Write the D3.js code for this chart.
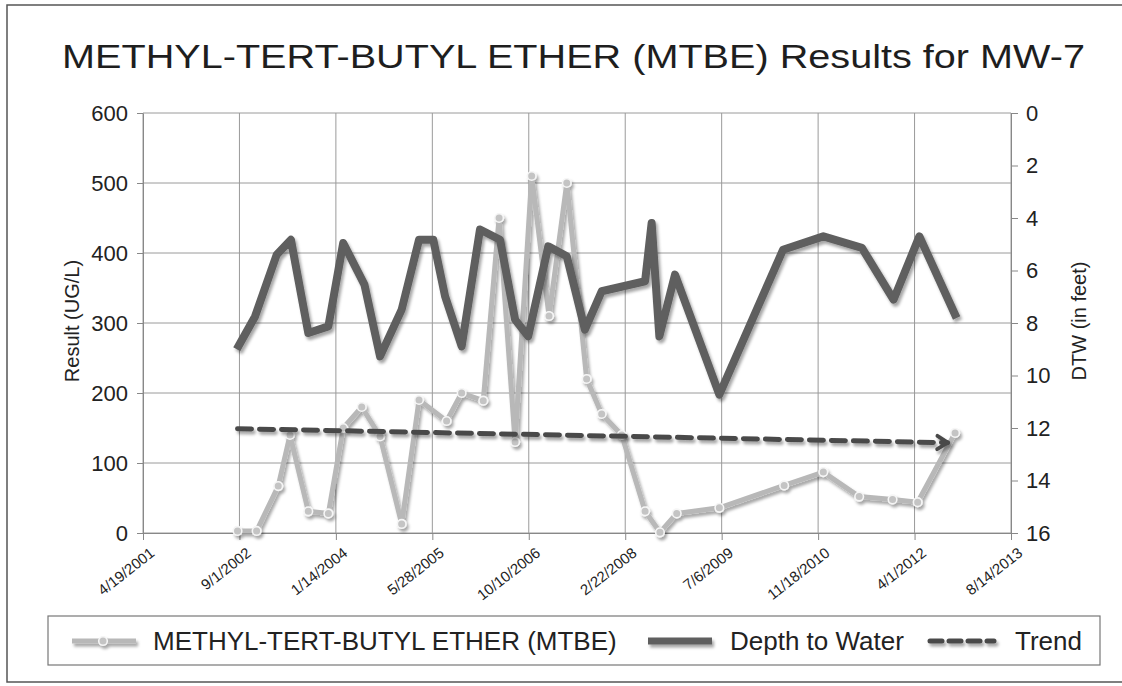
<!DOCTYPE html>
<html>
<head>
<meta charset="utf-8">
<script src="https://cdn.jsdelivr.net/npm/d3@7"></script>
<style>
  body { margin: 0; background: #fff; }
  text { font-family: "Liberation Sans", Arial, sans-serif; fill: #222; }
  .grid line { stroke: #9a9a9a; stroke-width: 1; }
  .axis path, .axis line { stroke: #888; }
  .xlab { font-family: "Liberation Sans Narrow", "Arial Narrow", "Liberation Sans", sans-serif; }
</style>
</head>
<body>
<div id="chart"></div>
<script>
// tick labels on the date axis
var xTicks = ["4/19/2001", "9/1/2002", "1/14/2004", "5/28/2005", "10/10/2006",
  "2/22/2008", "7/6/2009", "11/18/2010", "4/1/2012", "8/14/2013"];

// MTBE results (UG/L)
var mtbeDates = ["8/22/2002", "11/29/2002", "3/21/2003", "5/21/2003", "8/24/2003", "12/6/2003",
  "2/21/2004", "5/27/2004", "8/30/2004", "12/20/2004", "3/20/2005", "8/10/2005", "10/27/2005",
  "2/16/2006", "5/9/2006", "7/31/2006", "10/25/2006", "1/23/2007", "4/25/2007", "8/6/2007",
  "10/23/2007", "2/4/2008", "6/4/2008", "8/20/2008", "11/15/2008", "6/24/2009", "5/26/2010",
  "12/15/2010", "6/19/2011", "12/9/2011", "4/17/2012", "10/28/2012"];
var mtbeValues = [3, 3, 67, 140, 31, 28, 150, 180, 138, 13, 190, 160, 200, 189, 450, 130, 510,
  310, 500, 220, 170, 140, 31, 1, 28, 36, 68, 87, 52, 48, 44, 143];

// depth to water (feet)
var dtwDates = ["8/18/2002", "11/21/2002", "3/13/2003", "5/26/2003", "8/24/2003", "12/6/2003",
  "2/21/2004", "6/10/2004", "8/30/2004", "12/20/2004", "3/20/2005", "6/2/2005", "8/2/2005",
  "10/27/2005", "1/30/2006", "5/14/2006", "7/31/2006", "10/7/2006", "1/19/2007", "4/25/2007",
  "7/28/2007", "10/23/2007", "6/4/2008", "7/8/2008", "8/17/2008", "11/6/2008", "6/24/2009",
  "5/20/2010", "12/15/2010", "7/3/2011", "12/14/2011", "4/26/2012", "11/5/2012"];
var dtwValues = [9.0, 7.75, 5.4, 4.83, 8.38, 8.13, 4.95, 6.54, 9.27, 7.49, 4.83, 4.83, 6.98,
  8.89, 4.44, 4.83, 7.87, 8.51, 5.08, 5.46, 8.25, 6.79, 6.41, 4.19, 8.51, 6.16, 10.73, 5.21,
  4.70, 5.14, 7.11, 4.70, 7.81];

// trend line
var trendDates = ["8/22/2002", "9/20/2012"];
var trendValues = [149, 129];

var leftTicks = [0, 100, 200, 300, 400, 500, 600];
var rightTicks = [0, 2, 4, 6, 8, 10, 12, 14, 16];

var parse = d3.timeParse("%m/%d/%Y");
var fmt = d3.timeFormat("%-m/%-d/%Y");

var outerWidth = 1122, outerHeight = 686;
var margin = { top: 113, right: 111, bottom: 153, left: 143 };
var width = outerWidth - margin.left - margin.right,
  height = outerHeight - margin.top - margin.bottom;

var svg = d3.select("#chart").append("svg")
  .attr("width", outerWidth)
  .attr("height", outerHeight);

// shadow like the office chart effect
var defs = svg.append("defs");
defs.append("filter")
  .attr("id", "shadow")
  .attr("filterUnits", "userSpaceOnUse")
  .attr("x", -300).attr("y", -300).attr("width", 1800).attr("height", 1400)
  .append("feDropShadow")
  .attr("dx", 2).attr("dy", 3)
  .attr("stdDeviation", 1.6)
  .attr("flood-color", "#000")
  .attr("flood-opacity", 0.35);

defs.append("marker")
  .attr("id", "arrow")
  .attr("viewBox", "0 0 10 10")
  .attr("refX", 7).attr("refY", 5)
  .attr("markerWidth", 3.8).attr("markerHeight", 3.8)
  .attr("markerUnits", "strokeWidth")
  .attr("orient", "auto")
  .append("path")
  .attr("d", "M1.5,1.5 L7,5 L1.5,8.5")
  .attr("fill", "none")
  .attr("stroke", "#4a4a4a")
  .attr("stroke-width", 2)
  .attr("stroke-linecap", "round")
  .attr("stroke-linejoin", "round");

// outer frame
svg.append("rect")
  .attr("x", 7).attr("y", 5)
  .attr("width", 1130).attr("height", 677)
  .attr("fill", "none")
  .attr("stroke", "#555")
  .attr("stroke-width", 1.5);

// title
svg.append("text")
  .attr("x", 62)
  .attr("y", 68)
  .attr("textLength", 1023)
  .attr("lengthAdjust", "spacingAndGlyphs")
  .style("font-size", "33.5px")
  .style("fill", "#1e1e1e")
  .text("METHYL-TERT-BUTYL ETHER (MTBE) Results for MW-7");

var g = svg.append("g")
  .attr("transform", "translate(" + margin.left + "," + margin.top + ")");

//Create scale functions
var xScale = d3.scaleTime()
  .domain([parse(xTicks[0]), parse(xTicks[xTicks.length - 1])])
  .range([0, width]);

var yScale = d3.scaleLinear()
  .domain([0, 600])
  .range([height, 0]);

var y2Scale = d3.scaleLinear()
  .domain([0, 16])
  .range([0, height]);

// gridlines
var grid = g.append("g").attr("class", "grid");
grid.selectAll("line.h")
  .data(leftTicks)
  .enter().append("line")
  .attr("class", "h")
  .attr("x1", 0).attr("x2", width)
  .attr("y1", function(d) { return yScale(d); })
  .attr("y2", function(d) { return yScale(d); });
grid.selectAll("line.v")
  .data(xTicks.map(parse))
  .enter().append("line")
  .attr("class", "v")
  .attr("y1", 0).attr("y2", height)
  .attr("x1", function(d) { return xScale(d); })
  .attr("x2", function(d) { return xScale(d); });

// axes
var xAxis = g.append("g")
  .attr("class", "axis")
  .attr("transform", "translate(0," + height + ")")
  .call(d3.axisBottom(xScale).tickValues(xTicks.map(parse)).tickFormat(fmt).tickSize(7).tickSizeOuter(0));
xAxis.selectAll("text")
  .attr("class", "xlab")
  .style("font-size", "15px")
  .style("text-anchor", "end")
  .attr("dx", 0).attr("dy", 0)
  .attr("transform", "translate(6,14) rotate(-38)");

var yAxis = g.append("g")
  .attr("class", "axis")
  .call(d3.axisLeft(yScale).tickValues(leftTicks).tickSize(6).tickSizeOuter(0).tickPadding(9));
yAxis.selectAll("text").style("font-size", "22px");

var y2Axis = g.append("g")
  .attr("class", "axis")
  .attr("transform", "translate(" + width + ",0)")
  .call(d3.axisRight(y2Scale).tickValues(rightTicks).tickSize(7).tickSizeOuter(0).tickPadding(8));
y2Axis.selectAll("text").style("font-size", "22px");

g.selectAll(".axis text").style("fill", "#222");
g.selectAll(".axis .domain").attr("stroke", "#888");

// axis titles
g.append("text")
  .attr("text-anchor", "middle")
  .attr("transform", "translate(" + (-64) + "," + (height / 2 - 2) + ") rotate(-90)")
  .style("font-size", "20px")
  .text("Result (UG/L)");

g.append("text")
  .attr("text-anchor", "middle")
  .attr("transform", "translate(" + (width + 75) + "," + (height / 2 - 2) + ") rotate(-90)")
  .style("font-size", "20px")
  .text("DTW (in feet)");

// lines
var mtbe = mtbeDates.map(function(d, i) { return { date: parse(d), value: mtbeValues[i] }; });
var dtw = dtwDates.map(function(d, i) { return { date: parse(d), value: dtwValues[i] }; });
var trend = trendDates.map(function(d, i) { return { date: parse(d), value: trendValues[i] }; });

var mtbeLine = d3.line()
  .x(function(d) { return xScale(d.date); })
  .y(function(d) { return yScale(d.value); });
var dtwLine = d3.line()
  .x(function(d) { return xScale(d.date); })
  .y(function(d) { return y2Scale(d.value); });

var mtbeG = g.append("g").attr("filter", "url(#shadow)");
mtbeG.append("path")
  .datum(mtbe)
  .attr("d", mtbeLine)
  .attr("fill", "none")
  .attr("stroke", "#b8b8b8")
  .attr("stroke-width", 5)
  .attr("stroke-linejoin", "round");
mtbeG.selectAll("circle")
  .data(mtbe)
  .enter().append("circle")
  .attr("cx", function(d) { return xScale(d.date); })
  .attr("cy", function(d) { return yScale(d.value); })
  .attr("r", 4.3)
  .attr("fill", "#c4c4c4")
  .attr("stroke", "#f6f6f6")
  .attr("stroke-width", 1.6);

g.append("path")
  .datum(dtw)
  .attr("d", dtwLine)
  .attr("fill", "none")
  .attr("stroke", "#5f5f5f")
  .attr("stroke-width", 8)
  .attr("stroke-linejoin", "round")
  .attr("filter", "url(#shadow)");

g.append("path")
  .datum(trend)
  .attr("d", mtbeLine)
  .attr("fill", "none")
  .attr("stroke", "#4a4a4a")
  .attr("stroke-width", 5)
  .attr("stroke-dasharray", "14,8")
  .attr("stroke-linecap", "round")
  .attr("marker-end", "url(#arrow)")
  .attr("filter", "url(#shadow)");

// legend
var legend = svg.append("g").attr("class", "legend");
legend.append("rect")
  .attr("x", 48).attr("y", 616)
  .attr("width", 1052).attr("height", 49)
  .attr("fill", "none")
  .attr("stroke", "#777")
  .attr("stroke-width", 1.2);

var ly = 641;
var l1 = legend.append("g").attr("filter", "url(#shadow)");
l1.append("line")
  .attr("x1", 72).attr("x2", 136).attr("y1", ly).attr("y2", ly)
  .attr("stroke", "#b8b8b8").attr("stroke-width", 5);
l1.append("circle")
  .attr("cx", 103).attr("cy", ly).attr("r", 4.3)
  .attr("fill", "#c4c4c4").attr("stroke", "#f6f6f6").attr("stroke-width", 1.6);
legend.append("text")
  .attr("x", 153).attr("y", ly + 9)
  .style("font-size", "26px")
  .text("METHYL-TERT-BUTYL ETHER (MTBE)");

legend.append("line")
  .attr("x1", 648).attr("x2", 712).attr("y1", ly).attr("y2", ly)
  .attr("stroke", "#5f5f5f").attr("stroke-width", 7)
  .attr("filter", "url(#shadow)");
legend.append("text")
  .attr("x", 730).attr("y", ly + 9)
  .style("font-size", "26px")
  .text("Depth to Water");

legend.append("line")
  .attr("x1", 930).attr("x2", 994).attr("y1", ly).attr("y2", ly)
  .attr("stroke", "#4a4a4a").attr("stroke-width", 5)
  .attr("stroke-dasharray", "12,7")
  .attr("stroke-linecap", "round")
  .attr("filter", "url(#shadow)");
legend.append("text")
  .attr("x", 1015).attr("y", ly + 9)
  .style("font-size", "26px")
  .text("Trend");
</script>
</body>
</html>
